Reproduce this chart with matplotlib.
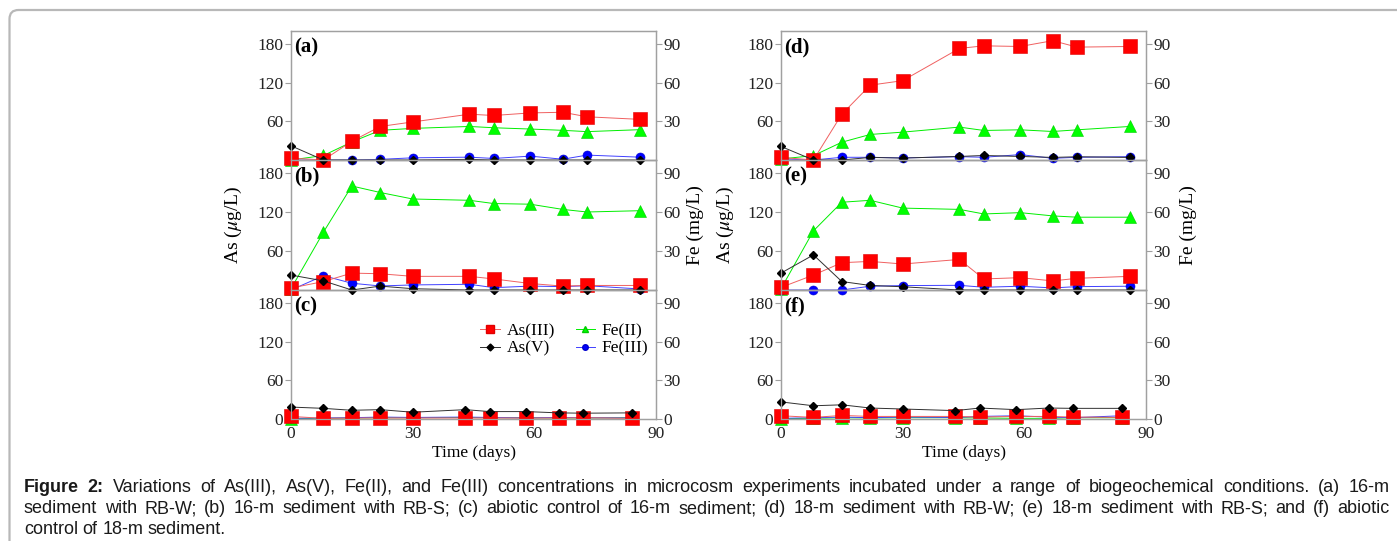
import matplotlib
matplotlib.use("Agg")
import matplotlib.pyplot as plt
from matplotlib.lines import Line2D
from matplotlib.patches import FancyBboxPatch

plt.rcParams["font.family"] = ["Liberation Serif", "DejaVu Serif"]
plt.rcParams["mathtext.fontset"] = "stix"

# sampling days (biotic runs and abiotic controls)
days_bio = [0, 8, 15, 22, 30, 44, 50, 59, 67, 73, 86]
days_abio = [0, 8, 15, 22, 30, 43, 49, 58, 66, 72, 84]

# As in ug/L, Fe in mg/L
as3_a = [3, 0, 29, 52, 59, 71, 69, 73, 74, 67, 63]
as5_a = [22, 0, 0, 0, 0, 1, 0, 0, 0, 0, 0]
fe2_a = [0, 3.5, 14, 23, 24.5, 26, 25, 24, 23, 22, 23.5]
fe3_a = [0, 0, 0, 0.5, 1.7, 2.2, 1.2, 3, 0.6, 3.8, 2.2]

as3_b = [3, 13, 26, 25, 21, 21, 17, 10, 6, 7, 7]
as5_b = [23, 14, 0, 6, 2, 0, 0, 0, 0, 0, 0]
fe2_b = [1, 44.5, 80, 75, 70, 69, 66.5, 66, 62, 60, 61]
fe3_b = [0, 11, 5.2, 3.1, 3.9, 4.4, 1.8, 3, 2.6, 3.3, 0.8]

as3_c = [4, 1, 1.5, 1.5, 1.5, 1.5, 1.5, 1.5, 1.5, 2, 1]
as5_c = [18.5, 16.5, 13.5, 14.5, 10.5, 14.5, 11.5, 11.5, 9.5, 9, 9.5]
fe2_c = [0.3, 0.5, 0.8, 1, 1, 1.2, 1, 1, 0.8, 0.8, 1]
fe3_c = [0.5, 0.8, 1, 1.5, 1.2, 1.5, 1.2, 0.8, 1.2, 1, 0.8]

as3_d = [4, 0, 71, 116, 123, 173, 177, 176, 185, 175, 176]
as5_d = [21, 0, 0, 4, 3, 5.5, 7, 5.5, 4, 5, 4]
fe2_d = [0.8, 3.4, 13.8, 19.8, 21.6, 25.5, 22.9, 23.4, 22.1, 23.4, 26]
fe3_d = [0.8, 0, 2.1, 2.1, 1.6, 2.6, 2.1, 4.2, 1.3, 2.1, 2.6]

as3_e = [4, 23, 42, 44, 40, 47, 17, 19, 14, 18, 21]
as5_e = [26, 54, 13, 7, 5, 0, 0, 0, 0, 0, 0]
fe2_e = [1, 45.5, 67.5, 69, 63, 62, 58.5, 59.5, 57, 56, 56]
fe3_e = [0, 0, 0, 2.9, 3.4, 3.6, 2.1, 2.9, 1.6, 2.6, 2.9]

as3_f = [5, 2.5, 5.5, 4, 4, 4, 3, 4, 4, 3, 2.5]
as5_f = [26.5, 20.5, 22, 17, 15.5, 13, 17, 14.5, 17, 16.5, 16.5]
fe2_f = [0.3, 0.5, 1, 0.8, 1, 1, 0.8, 0.5, 0.5, 1, 1]
fe3_f = [0.5, 1, 1.5, 1, 1.5, 1.2, 2, 2.5, 1.5, 1, 2.5]

as_ticks = [0, 60, 120, 180]
fe_ticks = [0, 30, 60, 90]
time_ticks = [0, 30, 60, 90]

caption_lines = [
    "Figure 2: Variations of As(III), As(V), Fe(II), and Fe(III) concentrations in microcosm "
    "experiments incubated under a range of biogeochemical conditions. (a) 16-m",
    "sediment with RB-W; (b) 16-m sediment with RB-S; (c) abiotic control of 16-m sediment; "
    "(d) 18-m sediment with RB-W; (e) 18-m sediment with RB-S; and (f) abiotic",
    "control of 18-m sediment.",
]

W, H = 1397, 541
SPINE = "#a0a0a0"

fig = plt.figure(figsize=(W / 100, H / 100), dpi=100)

# rounded frame of the figure box
fig.patches.append(FancyBboxPatch((9.5, -30), 1450, H - 10 + 30, boxstyle="round,pad=0,rounding_size=9",
                                  transform=None, fill=False, edgecolor="#b8b8b8", lw=1.6))

col_x = [291, 781]
row_top = [31, 160, 290]
row_bot = [160, 290, 419]

panels = [
    ("(a)", 0, 0, days_bio, as3_a, as5_a, fe2_a, fe3_a),
    ("(b)", 0, 1, days_bio, as3_b, as5_b, fe2_b, fe3_b),
    ("(c)", 0, 2, days_abio, as3_c, as5_c, fe2_c, fe3_c),
    ("(d)", 1, 0, days_bio, as3_d, as5_d, fe2_d, fe3_d),
    ("(e)", 1, 1, days_bio, as3_e, as5_e, fe2_e, fe3_e),
    ("(f)", 1, 2, days_abio, as3_f, as5_f, fe2_f, fe3_f),
]

axes = {}
for tag, col, row, days, as3, as5, fe2, fe3 in panels:
    rect = [col_x[col] / W, 1 - row_bot[row] / H, 365 / W, (row_bot[row] - row_top[row]) / H]
    ax = fig.add_axes(rect)
    tw = ax.twinx()
    ax.set_zorder(tw.get_zorder() + 1)
    ax.patch.set_visible(False)

    tw.plot(days, fe2, color="#00ee00", lw=0.7, marker="^", ms=9, mfc="#00ff00", mec="#00cc00",
            mew=0.4, clip_on=False)
    tw.plot(days, fe3, color="#4040ff", lw=0.7, marker="o", ms=6.5, mfc="#0000ff", mec="#0000cc",
            mew=0.4, clip_on=False)
    ax.plot(days, as3, color="#f06060", lw=0.7, marker="s", ms=9.5, mfc="#ff0000", mec="#e00000",
            mew=0.4, clip_on=False)
    ax.plot(days, as5, color="#303030", lw=0.7, marker="D", ms=4.5, mfc="black", mec="black",
            clip_on=False)

    ax.set_xlim(0, 90)
    ax.set_ylim(0, 200)
    tw.set_ylim(0, 100)
    last = row == 2
    ax.set_yticks(as_ticks if last else as_ticks[1:])
    tw.set_yticks(fe_ticks if last else fe_ticks[1:])
    ax.set_xticks(time_ticks)
    if not last:
        ax.tick_params(axis="x", labelbottom=False)
    for a in (ax, tw):
        for s in a.spines.values():
            s.set_color(SPINE)
            s.set_linewidth(0.9)
        a.tick_params(axis="y", direction="out", length=4, color=SPINE, labelsize=12.5, pad=1.5,
                      labelcolor="#222222")
    ax.tick_params(axis="x", length=0, labelsize=12.5, pad=5, labelcolor="#222222")
    ax.text(0.008, 0.875, tag, transform=ax.transAxes, fontsize=15, fontweight="bold",
            ha="left", va="center")
    if last:
        ax.set_xlabel("Time (days)", fontsize=12.5, labelpad=2)
    axes[tag] = ax

# legend in panel (c)
handles = [
    Line2D([], [], color="#f06060", lw=0.7, marker="s", ms=6, mfc="#ff0000", mec="#e00000"),
    Line2D([], [], color="#303030", lw=0.7, marker="D", ms=3.5, mfc="black", mec="black"),
    Line2D([], [], color="#00ee00", lw=0.7, marker="^", ms=4.5, mfc="#00ff00", mec="#00cc00"),
    Line2D([], [], color="#4040ff", lw=0.7, marker="o", ms=4, mfc="#0000ff", mec="#0000cc"),
]
axes["(c)"].legend(handles, ["As(III)", "As(V)", "Fe(II)", "Fe(III)"], ncol=2, frameon=False,
                   loc="upper left", bbox_to_anchor=(0.5, 0.8), fontsize=12.5, handlelength=1.1,
                   handletextpad=0.4, columnspacing=1.2, labelspacing=0.1, borderaxespad=0)

# axis titles shared by the stacked panels
ylab_y = 1 - 225 / H
fig.text(233 / W, ylab_y, r"As ($\mu$g/L)", rotation=90, ha="center", va="center", fontsize=14)
fig.text(695 / W, ylab_y, "Fe (mg/L)", rotation=90, ha="center", va="center", fontsize=14)
fig.text(725 / W, ylab_y, r"As ($\mu$g/L)", rotation=90, ha="center", va="center", fontsize=14)
fig.text(1188 / W, ylab_y, "Fe (mg/L)", rotation=90, ha="center", va="center", fontsize=14)

# justified caption below the figure
renderer = fig.canvas.get_renderer()
cap_font = ["Liberation Sans", "DejaVu Sans"]
cap_x0, cap_x1 = 24, 1390
cap_base = [492, 513, 534]
for i, line in enumerate(caption_lines):
    words = line.split(" ")
    texts = []
    for j, word in enumerate(words):
        bold = i == 0 and j < 2
        t = fig.text(0, 1 - cap_base[i] / H, word, family=cap_font, fontsize=13, va="baseline",
                     ha="left", fontweight="bold" if bold else "normal", color="#1a1a1a")
        texts.append(t)
    widths = [t.get_window_extent(renderer).width for t in texts]
    if i < len(caption_lines) - 1:
        gap = (cap_x1 - cap_x0 - sum(widths)) / (len(words) - 1)
    else:
        gap = 4.5
    x = cap_x0
    for t, w in zip(texts, widths):
        t.set_x(x / W)
        x += w + gap

fig.savefig("out.png", dpi=100)
